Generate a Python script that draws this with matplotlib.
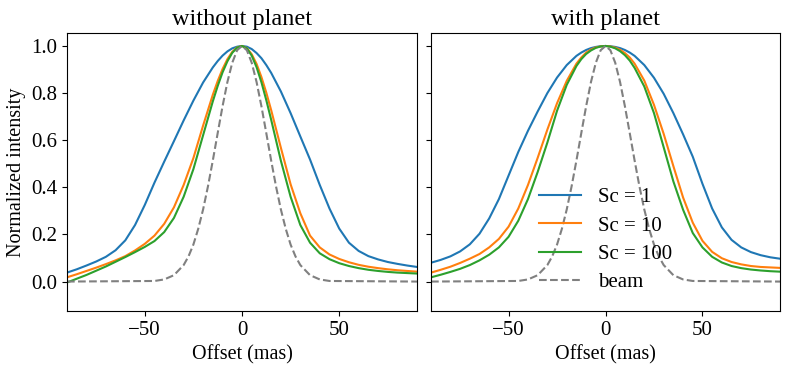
import matplotlib
matplotlib.use("Agg")
import matplotlib.pyplot as plt

plt.rcParams['font.family'] = ['Liberation Serif', 'DejaVu Serif']

# shared offset grid (mas)
offset = [-90, -85, -80, -75, -70, -65, -60, -55, -50, -45, -40, -35, -30, -25, -20, -15,
          -12.5, -10, -7.5, -5, -2.5, 0, 2.5, 5, 7.5, 10, 12.5,
          15, 20, 25, 30, 35, 40, 45, 50, 55, 60, 65, 70, 75, 80, 85, 90]

# without planet
no_sc1 = [0.038, 0.052, 0.068, 0.085, 0.105, 0.133, 0.175, 0.24, 0.325, 0.42, 0.509, 0.596, 0.684, 0.768, 0.845, 0.909,
          0.936, 0.959, 0.977, 0.990, 0.997, 1.0, 0.997, 0.987, 0.970, 0.948, 0.919,
          0.886, 0.807, 0.715, 0.616, 0.518, 0.41, 0.31, 0.225, 0.165, 0.13, 0.108, 0.094, 0.083, 0.075, 0.068, 0.062]
no_sc10 = [0.018, 0.031, 0.045, 0.059, 0.074, 0.09, 0.108, 0.132, 0.16, 0.195, 0.245, 0.315, 0.41, 0.524, 0.662, 0.793,
           0.851, 0.902, 0.944, 0.975, 0.994, 1.0, 0.991, 0.965, 0.924, 0.868, 0.802,
           0.728, 0.568, 0.413, 0.29, 0.195, 0.145, 0.115, 0.096, 0.082, 0.071, 0.063, 0.057, 0.052, 0.048, 0.045, 0.042]
no_sc100 = [-0.004, 0.012, 0.028, 0.046, 0.064, 0.084, 0.104, 0.125, 0.147, 0.172, 0.21, 0.27, 0.36, 0.477, 0.621, 0.765,
            0.830, 0.888, 0.935, 0.971, 0.993, 1.0, 0.990, 0.959, 0.910, 0.846, 0.770,
            0.687, 0.513, 0.36, 0.24, 0.165, 0.12, 0.095, 0.078, 0.066, 0.057, 0.05, 0.045, 0.041, 0.038, 0.036, 0.034]

# with planet
pl_sc1 = [0.08, 0.092, 0.107, 0.128, 0.158, 0.203, 0.268, 0.35, 0.45, 0.55, 0.64, 0.722, 0.8, 0.866, 0.919, 0.958,
          0.972, 0.983, 0.991, 0.996, 0.999, 1.0, 0.999, 0.996, 0.991, 0.983, 0.972,
          0.958, 0.919, 0.865, 0.797, 0.715, 0.625, 0.53, 0.415, 0.31, 0.23, 0.177, 0.145, 0.125, 0.112, 0.103, 0.097]
pl_sc10 = [0.038, 0.05, 0.063, 0.079, 0.097, 0.117, 0.145, 0.181, 0.233, 0.31, 0.41, 0.525, 0.645, 0.757, 0.852, 0.925,
           0.951, 0.972, 0.985, 0.994, 0.998, 1.0, 0.998, 0.993, 0.984, 0.97, 0.951,
           0.925, 0.853, 0.75, 0.627, 0.49, 0.357, 0.25, 0.173, 0.126, 0.099, 0.083, 0.073, 0.066, 0.062, 0.06, 0.058]
pl_sc100 = [0.018, 0.029, 0.041, 0.054, 0.07, 0.09, 0.114, 0.145, 0.19, 0.258, 0.35, 0.465, 0.59, 0.725, 0.835, 0.915,
            0.944, 0.966, 0.981, 0.992, 0.998, 1.0, 0.997, 0.99, 0.978, 0.961, 0.938,
            0.907, 0.828, 0.715, 0.57, 0.425, 0.305, 0.206, 0.145, 0.105, 0.081, 0.066, 0.057, 0.051, 0.047, 0.044, 0.042]

# beam
beam_offset = [-90, -45, -40, -35, -30, -27.5, -25, -22.5, -20, -17.5, -15, -12.5, -10, -7.5, -5, -2.5, 0,
               2.5, 5, 7.5, 10, 12.5, 15, 17.5, 20, 22.5, 25, 27.5, 30, 35, 40, 45, 90]
beam = [0.0, 0.0025, 0.009, 0.027, 0.070, 0.107, 0.157, 0.224, 0.306, 0.404, 0.514, 0.630, 0.744, 0.847, 0.929, 0.982, 1.0,
        0.982, 0.929, 0.847, 0.744, 0.630, 0.514, 0.404, 0.306, 0.224, 0.157, 0.107, 0.070, 0.027, 0.009, 0.0025, 0.0]

labels = ['Sc = 1', 'Sc = 10', 'Sc = 100', 'beam']
titles = ['without planet', 'with planet']
colors = ['#1f77b4', '#ff7f0e', '#2ca02c']

fig = plt.figure(figsize=(7.89, 3.71), dpi=100)
ax1 = fig.add_axes([0.0849, 0.1617, 0.4436, 0.7493])
ax2 = fig.add_axes([0.5463, 0.1617, 0.4423, 0.7493], sharey=ax1)

for ax, series, title in [(ax1, [no_sc1, no_sc10, no_sc100], titles[0]),
                          (ax2, [pl_sc1, pl_sc10, pl_sc100], titles[1])]:
    for s, c, lab in zip(series, colors, labels[:3]):
        ax.plot(offset, s, color=c, lw=1.5, label=lab)
    ax.plot(beam_offset, beam, color='gray', ls='--', lw=1.5, label=labels[3])
    ax.set_xlim(-90, 90)
    ax.set_title(title, fontsize=17.5)
    ax.set_xlabel('Offset (mas)', fontsize=14.5)
    ax.set_xticks([-50, 0, 50])
    ax.tick_params(labelsize=15)

ax1.set_ylim(-0.125, 1.055)
ax1.set_yticks([0.0, 0.2, 0.4, 0.6, 0.8, 1.0])
ax1.set_ylabel('Normalized intensity', fontsize=14.5)
plt.setp(ax2.get_yticklabels(), visible=False)

ax2.legend(loc='lower center', frameon=False, fontsize=15, handlelength=2.0,
           labelspacing=0.42, borderaxespad=0.5)

fig.savefig('out.png', dpi=100)
